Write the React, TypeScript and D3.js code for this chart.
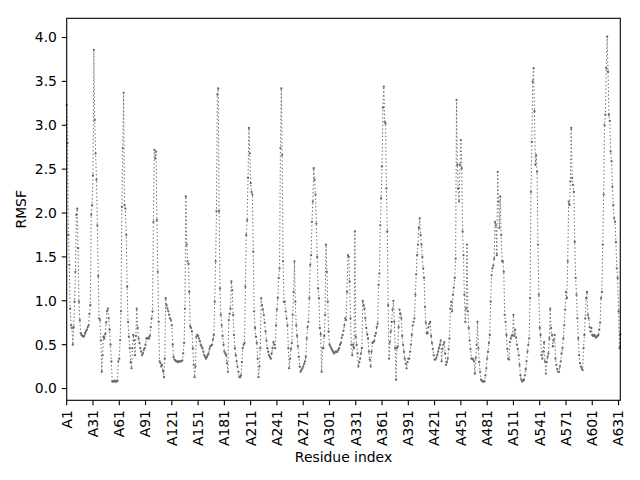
import React, { useEffect, useRef } from 'react';
import * as d3 from 'd3';

// RMSF per residue (index 0 = A1)
const rmsf: number[] = [
  3.23, 2.80, 1.75, 1.41, 0.91, 0.72, 0.69, 0.50, 0.70, 0.99,
  1.33, 1.98, 2.05, 1.60, 0.99, 0.78, 0.63, 0.61, 0.60, 0.59,
  0.60, 0.63, 0.65, 0.67, 0.70, 0.72, 0.85, 0.95, 1.98, 2.09,
  2.43, 3.86, 3.06, 2.68, 2.38, 1.86, 1.28, 0.80, 0.78, 0.55,
  0.19, 0.38, 0.59, 0.57, 0.62, 0.75, 0.88, 0.91, 0.80, 0.67,
  0.50, 0.31, 0.08, 0.08, 0.08, 0.09, 0.08, 0.08, 0.09, 0.31,
  0.34, 0.55, 0.88, 2.07, 2.74, 3.37, 2.09, 2.05, 1.75, 1.16,
  0.76, 0.59, 0.46, 0.30, 0.23, 0.46, 0.61, 0.55, 0.38, 0.60,
  0.91, 0.69, 0.57, 0.52, 0.46, 0.42, 0.38, 0.40, 0.44, 0.46,
  0.50, 0.57, 0.57, 0.58, 0.57, 0.60, 0.70, 0.80, 0.88, 1.90,
  2.72, 2.62, 2.70, 1.92, 1.33, 0.76, 0.31, 0.29, 0.25, 0.27,
  0.20, 0.13, 0.34, 1.03, 0.95, 0.91, 0.88, 0.84, 0.80, 0.78,
  0.72, 0.50, 0.36, 0.33, 0.32, 0.31, 0.31, 0.30, 0.31, 0.31,
  0.31, 0.31, 0.32, 0.40, 0.52, 0.91, 2.19, 1.64, 1.45, 1.42,
  1.10, 0.71, 0.69, 0.65, 0.46, 0.27, 0.13, 0.25, 0.59, 0.61,
  0.60, 0.57, 0.54, 0.50, 0.48, 0.46, 0.42, 0.38, 0.36, 0.34,
  0.36, 0.38, 0.40, 0.45, 0.48, 0.49, 0.50, 0.56, 0.61, 0.99,
  1.45, 2.02, 3.35, 3.42, 2.02, 1.14, 0.84, 0.72, 0.60, 0.50,
  0.42, 0.40, 0.38, 0.29, 0.19, 0.78, 0.85, 0.91, 1.22, 1.12,
  0.84, 0.61, 0.46, 0.38, 0.31, 0.25, 0.19, 0.13, 0.13, 0.15,
  0.30, 0.46, 0.50, 0.52, 1.16, 1.75, 1.92, 2.40, 2.97, 2.68,
  2.34, 2.24, 2.21, 1.56, 0.88, 0.69, 0.59, 0.52, 0.34, 0.13,
  0.25, 0.46, 1.03, 0.95, 0.90, 0.84, 0.75, 0.65, 0.55, 0.46,
  0.42, 0.38, 0.36, 0.34, 0.40, 0.46, 0.53, 0.50, 0.46, 0.72,
  0.90, 1.03, 1.26, 1.37, 2.74, 3.42, 2.66, 1.45, 0.99, 0.99,
  0.88, 0.80, 0.72, 0.46, 0.23, 0.34, 0.45, 0.52, 0.84, 1.10,
  1.45, 0.99, 0.72, 0.60, 0.48, 0.36, 0.25, 0.19, 0.21, 0.23,
  0.25, 0.28, 0.31, 0.36, 0.57, 0.70, 0.76, 1.03, 1.41, 1.52,
  1.90, 2.13, 2.51, 2.38, 2.21, 1.88, 1.50, 1.14, 1.03, 0.69,
  0.62, 0.19, 0.46, 0.46, 0.60, 0.84, 1.64, 1.33, 0.99, 0.65,
  0.50, 0.48, 0.46, 0.44, 0.42, 0.40, 0.41, 0.42, 0.42, 0.42,
  0.44, 0.46, 0.50, 0.52, 0.58, 0.61, 0.66, 0.72, 0.80, 0.78,
  1.10, 1.52, 1.50, 1.22, 0.80, 0.50, 0.38, 0.50, 0.46, 1.79,
  0.59, 0.50, 0.40, 0.25, 0.30, 0.34, 0.40, 0.46, 1.00, 0.95,
  0.91, 0.80, 0.69, 0.62, 0.57, 0.42, 0.33, 0.25, 0.42, 0.52,
  0.53, 0.54, 0.60, 0.63, 0.70, 0.74, 1.18, 1.31, 1.86, 2.17,
  2.53, 3.20, 3.44, 3.04, 3.02, 2.28, 1.79, 0.95, 0.34, 0.53,
  0.65, 0.76, 0.90, 1.00, 0.76, 0.46, 0.10, 0.46, 0.48, 0.70,
  0.90, 0.85, 0.80, 0.60, 0.50, 0.42, 0.34, 0.28, 0.23, 0.30,
  0.34, 0.34, 0.42, 0.50, 0.61, 0.72, 0.76, 0.80, 1.07, 1.30,
  1.52, 1.64, 1.83, 1.94, 1.75, 1.64, 1.50, 1.37, 1.26, 0.93,
  0.75, 0.63, 0.63, 0.70, 0.74, 0.76, 0.60, 0.52, 0.45, 0.38,
  0.33, 0.33, 0.35, 0.38, 0.42, 0.46, 0.50, 0.55, 0.31, 0.45,
  0.50, 0.53, 0.40, 0.27, 0.30, 0.34, 0.45, 0.57, 0.91, 0.99,
  0.88, 1.07, 1.15, 1.26, 1.48, 3.29, 2.55, 2.28, 2.13, 2.55,
  2.83, 2.51, 1.79, 1.52, 1.07, 0.76, 0.91, 1.64, 0.88, 0.69,
  0.55, 0.45, 0.34, 0.34, 0.33, 0.31, 0.17, 0.35, 0.50, 0.76,
  0.46, 0.30, 0.19, 0.10, 0.09, 0.08, 0.08, 0.08, 0.15, 0.23,
  0.34, 0.42, 0.52, 0.61, 0.99, 1.29, 1.37, 1.40, 1.48, 1.90,
  1.86, 1.52, 2.47, 2.13, 1.83, 2.19, 1.75, 1.45, 1.45, 1.33,
  0.84, 0.76, 0.61, 0.45, 0.34, 0.33, 0.53, 0.57, 0.60, 0.61,
  0.84, 0.60, 0.67, 0.58, 0.50, 0.45, 0.38, 0.27, 0.15, 0.10,
  0.08, 0.09, 0.10, 0.15, 0.22, 0.31, 0.42, 0.50, 0.57, 1.03,
  2.24, 2.81, 3.50, 3.65, 3.16, 2.55, 2.66, 2.47, 1.64, 1.07,
  0.69, 0.61, 0.38, 0.34, 0.42, 0.53, 0.31, 0.17, 0.30, 0.36,
  0.40, 0.57, 0.91, 0.69, 0.61, 0.48, 0.55, 0.61, 0.34, 0.27,
  0.22, 0.19, 0.19, 0.25, 0.31, 0.40, 0.46, 0.57, 0.72, 0.90,
  1.10, 1.03, 1.45, 2.13, 2.09, 2.36, 2.97, 2.40, 2.32, 2.24,
  1.67, 1.26, 1.07, 0.80, 0.57, 0.38, 0.29, 0.25, 0.23, 0.21,
  0.46, 0.61, 0.80, 1.03, 1.10, 0.84, 0.80, 0.70, 0.65, 0.69,
  0.61, 0.60, 0.61, 0.60, 0.58, 0.59, 0.60, 0.61, 0.67, 0.75,
  1.03, 1.10, 1.64, 2.21, 3.00, 3.12, 3.65, 4.01, 3.61, 3.12,
  3.05, 2.70, 2.59, 2.30, 2.09, 1.94, 1.90, 1.67, 1.37, 1.26,
  0.88, 0.46, 0.62,
];

const xTickLabels = [
  'A1', 'A31', 'A61', 'A91', 'A121', 'A151', 'A181', 'A211', 'A241', 'A271', 'A301',
  'A331', 'A361', 'A391', 'A421', 'A451', 'A481', 'A511', 'A541', 'A571', 'A601', 'A631',
];
const yTicks = [0, 0.5, 1, 1.5, 2, 2.5, 3, 3.5, 4];

const W = 640;
const H = 480;
const FONT = '"DejaVu Sans", sans-serif';
const COLOR = '#6a6a6a';

const App: React.FC = () => {
  const svgRef = useRef<SVGSVGElement>(null);

  useEffect(() => {
    if (!svgRef.current) return;
    const svg = d3.select(svgRef.current);
    svg.selectAll('*').remove();

    const left = 66.7, right = 620.3, top = 18.3, bottom = 400.3;

    // x is the residue position; tick i sits at residue index 30*i
    const x = d3.scaleLinear().domain([0, rmsf.length - 1]).range([left, right]);
    const y = d3.scaleLinear().domain([-0.134, 4.219]).range([bottom, top]);

    const line = d3.line<number>()
      .x((_, i) => x(i))
      .y((d) => y(d));

    const plot = svg.append('g');
    plot.append('path')
      .datum(rmsf)
      .attr('d', line)
      .attr('fill', 'none')
      .attr('stroke', COLOR)
      .attr('stroke-width', 1)
      .attr('stroke-dasharray', '1.4 2.3');

    plot.selectAll('circle')
      .data(rmsf)
      .join('circle')
      .attr('cx', (_, i) => x(i))
      .attr('cy', (d) => y(d))
      .attr('r', 1.15)
      .attr('fill', COLOR);

    // spines
    svg.append('rect')
      .attr('x', left).attr('y', top)
      .attr('width', right - left).attr('height', bottom - top)
      .attr('fill', 'none').attr('stroke', '#000').attr('stroke-width', 1.1);

    // y axis
    const yAxis = svg.append('g');
    yAxis.selectAll('line')
      .data(yTicks)
      .join('line')
      .attr('x1', left - 4.9).attr('x2', left)
      .attr('y1', (d) => y(d)).attr('y2', (d) => y(d))
      .attr('stroke', '#000').attr('stroke-width', 1.1);
    yAxis.selectAll('text')
      .data(yTicks)
      .join('text')
      .attr('x', left - 9.8)
      .attr('y', (d) => y(d))
      .attr('dy', '0.35em')
      .attr('text-anchor', 'end')
      .attr('font-family', FONT)
      .attr('font-size', 13.9)
      .text((d) => d3.format('.1f')(d));

    // x axis
    const xAxis = svg.append('g');
    xAxis.selectAll('line')
      .data(xTickLabels)
      .join('line')
      .attr('x1', (_, i) => x(i * 30)).attr('x2', (_, i) => x(i * 30))
      .attr('y1', bottom).attr('y2', bottom + 4.9)
      .attr('stroke', '#000').attr('stroke-width', 1.1);
    xAxis.selectAll('text')
      .data(xTickLabels)
      .join('text')
      .attr('transform', (_, i) => `translate(${x(i * 30)},${bottom + 9.8}) rotate(-90)`)
      .attr('text-anchor', 'end')
      .attr('dy', '0.35em')
      .attr('font-family', FONT)
      .attr('font-size', 13.9)
      .text((d) => d);

    svg.append('text')
      .attr('x', (left + right) / 2)
      .attr('y', 462)
      .attr('text-anchor', 'middle')
      .attr('font-family', FONT)
      .attr('font-size', 13.9)
      .text('Residue index');

    svg.append('text')
      .attr('transform', `translate(26,${(top + bottom) / 2}) rotate(-90)`)
      .attr('text-anchor', 'middle')
      .attr('font-family', FONT)
      .attr('font-size', 13.9)
      .text('RMSF');
  }, []);

  return (
    <svg
      ref={svgRef}
      width={W}
      height={H}
      style={{ position: 'absolute', left: 0, top: 0, background: '#fff', display: 'block' }}
    />
  );
};

export default App;
